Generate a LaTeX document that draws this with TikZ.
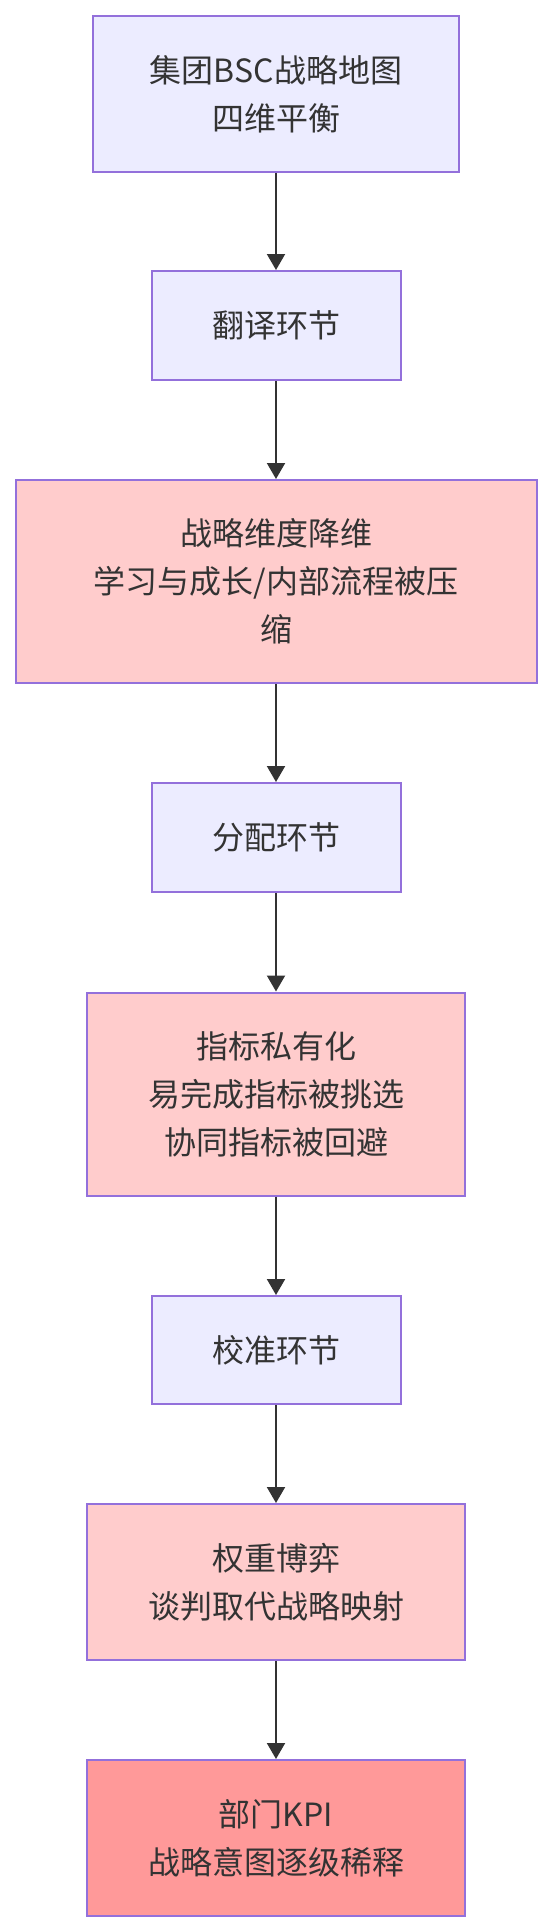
\documentclass[tikz,border=0pt]{standalone}
\usepackage{fontspec}
\newfontfamily\cjk{Noto Sans CJK SC}
\usetikzlibrary{arrows.meta}
\definecolor{mylav}{RGB}{236,236,255}
\definecolor{mypink}{RGB}{255,204,204}
\definecolor{myred}{RGB}{255,153,153}
\definecolor{myline}{RGB}{147,112,219}
\definecolor{mygray}{RGB}{51,51,51}
\tikzset{
    box/.style={draw=myline, line width=1pt, align=center, text=mygray,
        font=\cjk\fontsize{16pt}{24pt}\selectfont, inner sep=0pt},
    stage/.style={box, fill=mylav},
    issue/.style={box, fill=mypink},
    result/.style={box, fill=myred},
    flow/.style={-{Triangle[length=8pt, width=9pt]}, line width=1pt, color=mygray}
}

\begin{document}
\begin{tikzpicture}
    \useasboundingbox (0, 0) rectangle (276pt, -966pt);
    % Strategy map
    \node[stage, minimum width=183pt, minimum height=78pt] (map) at (138pt, -46.9pt)
        {集团BSC战略地图\\四维平衡};
    % Translation
    \node[stage, minimum width=124.5pt, minimum height=54.5pt] (trans) at (138pt, -162.75pt)
        {翻译环节};
    \node[issue, minimum width=260.5pt, minimum height=101.5pt] (dim) at (138pt, -290.75pt)
        {战略维度降维\\学习与成长/内部流程被压\\缩};
    % Allocation
    \node[stage, minimum width=124.5pt, minimum height=54.5pt] (alloc) at (138pt, -418.75pt)
        {分配环节};
    \node[issue, minimum width=189pt, minimum height=101.5pt] (priv) at (138pt, -547pt)
        {指标私有化\\易完成指标被挑选\\协同指标被回避};
    % Calibration
    \node[stage, minimum width=124.5pt, minimum height=54pt] (calib) at (138pt, -675pt)
        {校准环节};
    \node[issue, minimum width=189pt, minimum height=78pt] (game) at (138pt, -791pt)
        {权重博弈\\谈判取代战略映射};
    % Department KPI
    \node[result, minimum width=189pt, minimum height=78pt] (kpi) at (138pt, -919pt)
        {部门KPI\\战略意图逐级稀释};
    % Arrows
    \draw[flow] (map) -- (trans);
    \draw[flow] (trans) -- (dim);
    \draw[flow] (dim) -- (alloc);
    \draw[flow] (alloc) -- (priv);
    \draw[flow] (priv) -- (calib);
    \draw[flow] (calib) -- (game);
    \draw[flow] (game) -- (kpi);
\end{tikzpicture}
\end{document}
